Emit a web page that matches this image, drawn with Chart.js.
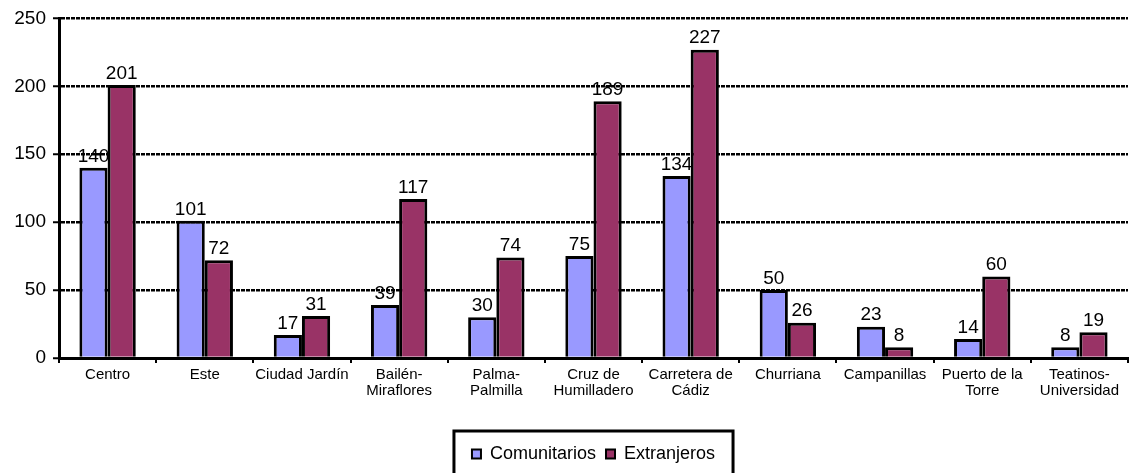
<!DOCTYPE html>
<html>
<head>
<meta charset="utf-8">
<script src="https://cdn.jsdelivr.net/npm/chart.js@4.4.0/dist/chart.umd.min.js"></script>
<style>
  html, body { margin: 0; padding: 0; background: #fff; }
  #wrap { width: 1129px; height: 473px; }
</style>
</head>
<body>
<div id="wrap"><canvas id="chart"></canvas></div>
<script>
// distritos
var distritos = [
    ['Centro'], ['Este'], ['Ciudad Jardín'], ['Bailén-', 'Miraflores'],
    ['Palma-', 'Palmilla'], ['Cruz de', 'Humilladero'], ['Carretera de', 'Cádiz'],
    ['Churriana'], ['Campanillas'], ['Puerto de la', 'Torre'], ['Teatinos-', 'Universidad']
];
var comunitarios = [140, 101, 17, 39, 30, 75, 134, 50, 23, 14, 8];
var extranjeros = [201, 72, 31, 117, 74, 189, 227, 26, 8, 60, 19];
var yTicks = [0, 50, 100, 150, 200, 250];

Chart.defaults.font.family = '"Liberation Sans", Arial, sans-serif';
Chart.defaults.color = '#000';

// valores encima de las barras
var etiquetas = {
    id: 'etiquetas',
    afterDatasetsDraw: function(chart) {
        var ctx = chart.ctx;
        ctx.save();
        ctx.font = '19px "Liberation Sans", Arial, sans-serif';
        ctx.fillStyle = '#000';
        ctx.textAlign = 'center';
        ctx.textBaseline = 'bottom';
        chart.data.datasets.forEach(function(ds, i) {
            chart.getDatasetMeta(i).data.forEach(function(bar, j) {
                ctx.fillText(ds.data[j], bar.x, bar.y - 2);
            });
        });
        ctx.restore();
    }
};

// marco de la leyenda
var marcoLeyenda = {
    id: 'marcoLeyenda',
    afterDraw: function(chart) {
        var boxes = chart.legend.legendHitBoxes;
        if (!boxes || !boxes.length) return;
        var minX = boxes[0].left, maxX = 0, top = boxes[0].top;
        boxes.forEach(function(b) {
            minX = Math.min(minX, b.left);
            maxX = Math.max(maxX, b.left + b.width);
        });
        var ctx = chart.ctx;
        ctx.save();
        ctx.strokeStyle = '#000';
        ctx.lineWidth = 3;
        ctx.strokeRect(minX - 18, top - 14, maxX - minX + 36, 60);
        ctx.restore();
    }
};

var ctx = document.getElementById('chart').getContext('2d');
new Chart(ctx, {
    type: 'bar',
    data: {
        labels: distritos,
        datasets: [
            {
                label: 'Comunitarios',
                data: comunitarios,
                backgroundColor: '#9999FF',
                borderColor: '#000',
                borderWidth: 3,
                borderSkipped: 'bottom'
            },
            {
                label: 'Extranjeros',
                data: extranjeros,
                backgroundColor: '#993366',
                borderColor: '#000',
                borderWidth: 3,
                borderSkipped: 'bottom'
            }
        ]
    },
    options: {
        responsive: true,
        maintainAspectRatio: false,
        animation: false,
        layout: { padding: { left: 0, right: 1, top: 18, bottom: 0 } },
        datasets: {
            bar: { categoryPercentage: 0.58, barPercentage: 1.0 }
        },
        scales: {
            x: {
                offset: true,
                border: { color: '#000', width: 3, z: 1 },
                grid: {
                    offset: true,
                    color: function(c) { return c.index === distritos.length ? '#000' : 'rgba(0,0,0,0)'; },
                    lineWidth: 2,
                    tickColor: '#000',
                    tickWidth: 2,
                    tickLength: 5
                },
                ticks: {
                    autoSkip: false,
                    maxRotation: 0,
                    padding: 4,
                    font: { size: 15, lineHeight: 1.05 }
                },
                afterFit: function(scale) { scale.height = 77; }
            },
            y: {
                min: 0,
                max: 250,
                afterBuildTicks: function(scale) {
                    scale.ticks = yTicks.map(function(v) { return { value: v }; });
                },
                border: { color: '#000', width: 3, dash: [4, 1] },
                grid: {
                    color: '#000',
                    lineWidth: 2.5,
                    tickColor: '#000',
                    tickWidth: 2,
                    tickLength: 6,
                    tickBorderDash: []
                },
                ticks: {
                    padding: 7,
                    font: { size: 19 }
                },
                afterFit: function(scale) { scale.width = 59; }
            }
        },
        plugins: {
            tooltip: { enabled: false },
            legend: {
                position: 'bottom',
                fullSize: false,
                labels: {
                    boxWidth: 9,
                    boxHeight: 9,
                    padding: 10,
                    font: { size: 18 },
                    generateLabels: function(chart) {
                        return Chart.defaults.plugins.legend.labels.generateLabels(chart).map(function(l) {
                            l.lineWidth = 2;
                            return l;
                        });
                    }
                }
            }
        }
    },
    plugins: [etiquetas, marcoLeyenda]
});
</script>
</body>
</html>
